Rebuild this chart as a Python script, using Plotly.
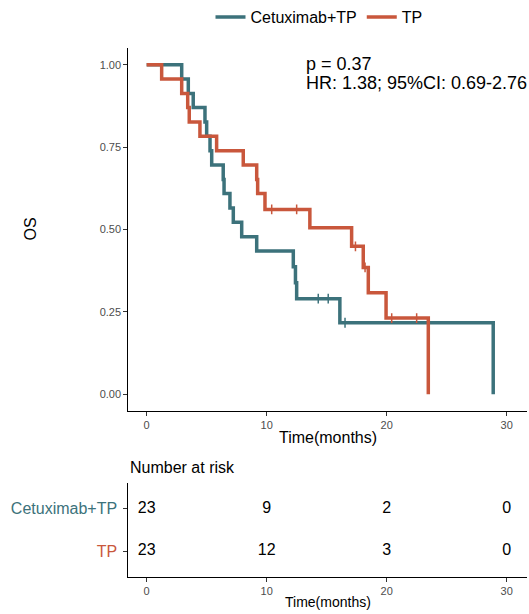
import plotly.graph_objects as go

# ---- data ----
groups = ["Cetuximab+TP", "TP"]

teal_t = [0, 2.92, 3.47, 3.88, 4.86, 5.0, 5.28, 5.42, 6.38, 6.45, 6.94, 7.22, 7.92, 9.17, 12.22, 12.4, 12.5, 16.1, 28.88]
teal_s = [1.0, 0.957, 0.913, 0.870, 0.826, 0.783, 0.739, 0.696, 0.652, 0.609, 0.565, 0.522, 0.478, 0.435, 0.387, 0.338, 0.290, 0.217, 0.0]
teal_cens_t = [14.3, 15.13, 16.53]
teal_cens_s = [0.290, 0.290, 0.217]

red_t = [0, 1.25, 2.92, 3.42, 3.55, 4.44, 5.83, 8.05, 9.17, 9.25, 9.86, 13.6, 17.08, 18.05, 18.47, 19.95, 23.47]
red_s = [1.0, 0.957, 0.913, 0.870, 0.826, 0.783, 0.739, 0.696, 0.652, 0.609, 0.561, 0.505, 0.449, 0.385, 0.308, 0.231, 0.0]
red_cens_t = [10.42, 12.5, 17.4, 18.2, 20.42, 22.5]
red_cens_s = [0.561, 0.561, 0.449, 0.385, 0.231, 0.231]

risk_times = [0, 10, 20, 30]
risk_teal = [23, 9, 2, 0]
risk_red = [23, 12, 3, 0]

x_ticks = [0, 10, 20, 30]
y_ticks = [0, 0.25, 0.5, 0.75, 1.0]
y_tick_labels = ["0.00", "0.25", "0.50", "0.75", "1.00"]

p_text = "p = 0.37"
hr_text = "HR: 1.38; 95%CI: 0.69-2.76"

TEAL = "#3C727B"
RED = "#C9573C"
FONT = "Liberation Sans, Arial, sans-serif"
W, H = 529, 614

fig = go.Figure()

fig.add_trace(go.Scatter(x=teal_t, y=teal_s, mode="lines", line=dict(shape="hv", color=TEAL, width=3.5),
                         name=groups[0], xaxis="x", yaxis="y"))
fig.add_trace(go.Scatter(x=red_t, y=red_s, mode="lines", line=dict(shape="hv", color=RED, width=3.5),
                         name=groups[1], xaxis="x", yaxis="y"))
fig.add_trace(go.Scatter(x=teal_cens_t, y=teal_cens_s, mode="markers", showlegend=False,
                         marker=dict(symbol="line-ns", size=7, line=dict(width=1.5, color=TEAL)),
                         xaxis="x", yaxis="y"))
fig.add_trace(go.Scatter(x=red_cens_t, y=red_cens_s, mode="markers", showlegend=False,
                         marker=dict(symbol="line-ns", size=7, line=dict(width=1.5, color=RED)),
                         xaxis="x", yaxis="y"))

# risk table
fig.add_trace(go.Scatter(x=risk_times, y=[2] * len(risk_times), mode="text", text=[str(v) for v in risk_teal],
                         textfont=dict(size=16, color="black", family=FONT), showlegend=False,
                         xaxis="x2", yaxis="y2"))
fig.add_trace(go.Scatter(x=risk_times, y=[1] * len(risk_times), mode="text", text=[str(v) for v in risk_red],
                         textfont=dict(size=16, color="black", family=FONT), showlegend=False,
                         xaxis="x2", yaxis="y2"))

x0 = 128.3 / W
x1 = 526.7 / W
axis_common = dict(showgrid=False, zeroline=False, showline=True, linecolor="black", linewidth=1,
                   ticks="outside", ticklen=4, tickcolor="#333333", tickwidth=1,
                   tickfont=dict(size=11, color="#4D4D4D", family=FONT))

fig.update_layout(
    width=W, height=H,
    margin=dict(l=0, r=0, t=0, b=0),
    paper_bgcolor="white", plot_bgcolor="white",
    font=dict(family=FONT, color="black"),
    xaxis=dict(domain=[x0, x1], range=[-1.53, 31.67], tickvals=x_ticks, anchor="y", **axis_common),
    yaxis=dict(domain=[1 - 410.7 / H, 1 - 48.3 / H], range=[-0.05, 1.05], tickvals=y_ticks,
               ticktext=y_tick_labels, anchor="x", **axis_common),
    xaxis2=dict(domain=[x0, x1], range=[-1.53, 31.67], tickvals=x_ticks, anchor="y2", **axis_common),
    yaxis2=dict(domain=[1 - 577 / H, 1 - 483 / H], range=[0.4, 2.6], tickvals=[1, 2],
                ticktext=[f'<span style="color:{RED}">{groups[1]}</span>',
                          f'<span style="color:{TEAL}">{groups[0]}</span>'],
                ticklabelstandoff=3,
                anchor="x2", **{**axis_common, "tickfont": dict(size=16, family=FONT)}),
    legend=dict(orientation="h", x=319 / W, xanchor="center", y=1 - 17 / H, yanchor="middle",
                font=dict(size=16, family=FONT), itemwidth=30, bgcolor="rgba(0,0,0,0)"),
    showlegend=True,
)

annotations = [
    dict(text=p_text, x=13.1, y=1.003, xref="x", yref="y", xanchor="left", yanchor="middle",
         showarrow=False, font=dict(size=18, family=FONT, color="black")),
    dict(text=hr_text, x=13.1, y=0.945, xref="x", yref="y", xanchor="left", yanchor="middle",
         showarrow=False, font=dict(size=18, family=FONT, color="black")),
    dict(text="OS", x=30 / W, y=1 - 229.5 / H, xref="paper", yref="paper", textangle=-90,
         xanchor="center", yanchor="middle", showarrow=False, font=dict(size=16, family=FONT, color="black")),
    dict(text="Time(months)", x=327.5 / W, y=1 - 437 / H, xref="paper", yref="paper",
         xanchor="center", yanchor="middle", showarrow=False, font=dict(size=16, family=FONT, color="black")),
    dict(text="Number at risk", x=x0, y=1 - 467 / H, xref="paper", yref="paper",
         xanchor="left", yanchor="middle", showarrow=False, font=dict(size=16, family=FONT, color="black")),
    dict(text="Time(months)", x=327.5 / W, y=1 - 602 / H, xref="paper", yref="paper",
         xanchor="center", yanchor="middle", showarrow=False, font=dict(size=14, family=FONT, color="black")),
]
fig.update_layout(annotations=annotations)

fig.write_html("out.html")
